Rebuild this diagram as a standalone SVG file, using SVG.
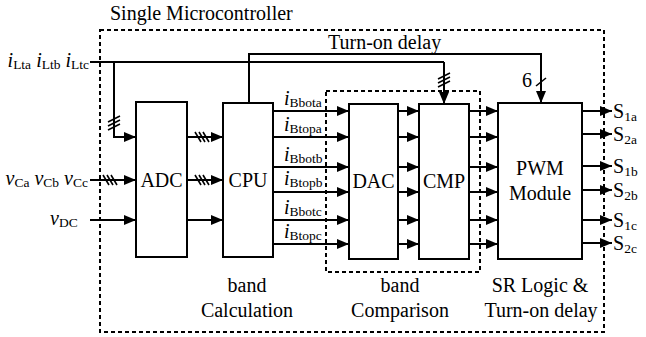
<svg xmlns="http://www.w3.org/2000/svg" width="646" height="337" viewBox="0 0 646 337" font-family="'Liberation Serif', 'Times New Roman', 'DejaVu Serif', serif">
<defs>
<marker id="ah" markerUnits="userSpaceOnUse" markerWidth="12" markerHeight="10" refX="12" refY="5" orient="auto">
<path d="M0,0 L12,5 L0,10 z" fill="#000"/>
</marker>
<style>
.bx{fill:#fff;stroke:#000;stroke-width:2}
.ln{fill:none;stroke:#000;stroke-width:2}
.ar{fill:none;stroke:#000;stroke-width:2;marker-end:url(#ah)}
.ds{fill:none;stroke:#000;stroke-width:2;stroke-dasharray:4 3}
.sl{stroke:#000;stroke-width:1.6}
text{font-family:'Liberation Serif','Times New Roman','DejaVu Serif',serif;fill:#000}
.t{font-size:20px}
.c{font-size:20px;text-anchor:middle}
.i{font-style:italic}
.s{font-size:13.5px}
</style>
</defs>
<rect width="646" height="337" fill="#fff"/>

<g id="frame">
<rect class="ds" x="100" y="30" width="504" height="302"/>
<text class="t" x="110" y="20">Single Microcontroller</text>
</g>
<g id="band-comparison-frame">
<rect class="ds" x="326" y="91" width="154" height="181"/>
</g>

<g id="connectors">
<path class="ln" d="M90,62 H444"/>
<path class="ar" d="M444,62 V104"/>
<path class="ar" d="M114,62 V137 H136"/>
<path class="ar" d="M249,103 V54 H541 V103"/>
<path class="ar" d="M90,180 H136"/>
<path class="ar" d="M90,220 H136"/>
<path class="ar" d="M187,137 H223"/>
<path class="ar" d="M187,180 H223"/>
<path class="ar" d="M187,220 H223"/>
<path class="ar" d="M273,111 H349"/>
<path class="ar" d="M273,137 H349"/>
<path class="ar" d="M273,167 H349"/>
<path class="ar" d="M273,192 H349"/>
<path class="ar" d="M273,220 H349"/>
<path class="ar" d="M273,244 H349"/>
<path class="ar" d="M398,111 H419"/>
<path class="ar" d="M398,137 H419"/>
<path class="ar" d="M398,167 H419"/>
<path class="ar" d="M398,192 H419"/>
<path class="ar" d="M398,220 H419"/>
<path class="ar" d="M398,244 H419"/>
<path class="ar" d="M469,111 H498"/>
<path class="ar" d="M469,137 H498"/>
<path class="ar" d="M469,167 H498"/>
<path class="ar" d="M469,192 H498"/>
<path class="ar" d="M469,220 H498"/>
<path class="ar" d="M469,244 H498"/>
<path class="ar" d="M582,111 H612"/>
<path class="ar" d="M582,134 H612"/>
<path class="ar" d="M582,166 H612"/>
<path class="ar" d="M582,190 H612"/>
<path class="ar" d="M582,220 H612"/>
<path class="ar" d="M582,243 H612"/>
<path class="sl" d="M103,175 L109,185 M107,175 L113,185 M111,175 L117,185"/>
<path class="sl" d="M195,132 L201,142 M199,132 L205,142 M203,132 L209,142"/>
<path class="sl" d="M195,175 L201,185 M199,175 L205,185 M203,175 L209,185"/>
<path class="sl" d="M108,122 L120,116 M108,126 L120,120 M108,130 L120,124"/>
<path class="sl" d="M438,79 L450,73 M438,83 L450,77 M438,87 L450,81"/>
<path class="sl" d="M536,86 L546,78"/>
<text class="c" x="527" y="87">6</text>
</g>

<g id="inputs">
<text class="t" text-anchor="end" x="89" y="67"><tspan class="i">i</tspan><tspan class="s" dy="2">Lta</tspan><tspan dy="-2"> </tspan><tspan class="i">i</tspan><tspan class="s" dy="2">Ltb</tspan><tspan dy="-2"> </tspan><tspan class="i">i</tspan><tspan class="s" dy="2">Ltc</tspan></text>
<text class="t" text-anchor="end" x="88" y="185"><tspan class="i">v</tspan><tspan class="s" dy="2">Ca</tspan><tspan dy="-2"> </tspan><tspan class="i">v</tspan><tspan class="s" dy="2">Cb</tspan><tspan dy="-2"> </tspan><tspan class="i">v</tspan><tspan class="s" dy="2">Cc</tspan></text>
<text class="t" x="50" y="225"><tspan class="i">v</tspan><tspan class="s" dy="2">DC</tspan></text>
</g>

<g id="adc">
<rect class="bx" x="136" y="102" width="51" height="155"/>
<text class="c" x="161.5" y="187">ADC</text>
</g>
<g id="cpu">
<rect class="bx" x="223" y="103" width="50" height="154"/>
<text class="c" x="248" y="187">CPU</text>
</g>
<g id="dac">
<rect class="bx" x="349" y="104" width="49" height="155"/>
<text class="c" x="373.5" y="188">DAC</text>
</g>
<g id="cmp">
<rect class="bx" x="419" y="104" width="50" height="155"/>
<text class="c" x="444" y="188">CMP</text>
</g>
<g id="pwm">
<rect class="bx" x="498" y="103" width="84" height="156"/>
<text class="c" x="540" y="175">PWM</text>
<text class="c" x="540" y="200">Module</text>
</g>

<g id="band-labels">
<text class="t" x="284" y="105"><tspan class="i">i</tspan><tspan class="s" dy="2">Bbota</tspan></text>
<text class="t" x="284" y="131"><tspan class="i">i</tspan><tspan class="s" dy="2">Btopa</tspan></text>
<text class="t" x="284" y="161"><tspan class="i">i</tspan><tspan class="s" dy="2">Bbotb</tspan></text>
<text class="t" x="284" y="185"><tspan class="i">i</tspan><tspan class="s" dy="2">Btopb</tspan></text>
<text class="t" x="284" y="214"><tspan class="i">i</tspan><tspan class="s" dy="2">Bbotc</tspan></text>
<text class="t" x="284" y="238"><tspan class="i">i</tspan><tspan class="s" dy="2">Btopc</tspan></text>
</g>

<g id="outputs">
<text class="t" x="613" y="118">S<tspan class="s" dy="3">1a</tspan></text>
<text class="t" x="613" y="141">S<tspan class="s" dy="3">2a</tspan></text>
<text class="t" x="613" y="173">S<tspan class="s" dy="3">1b</tspan></text>
<text class="t" x="613" y="197">S<tspan class="s" dy="3">2b</tspan></text>
<text class="t" x="613" y="227">S<tspan class="s" dy="3">1c</tspan></text>
<text class="t" x="613" y="250">S<tspan class="s" dy="3">2c</tspan></text>
</g>

<g id="captions">
<text class="t" x="328" y="49">Turn-on delay</text>
<text class="c" x="247" y="292">band</text>
<text class="c" x="247" y="317">Calculation</text>
<text class="c" x="400" y="292">band</text>
<text class="c" x="400" y="317">Comparison</text>
<text class="c" x="540" y="292">SR Logic &amp;</text>
<text class="c" x="541" y="317">Turn-on delay</text>
</g>
</svg>
